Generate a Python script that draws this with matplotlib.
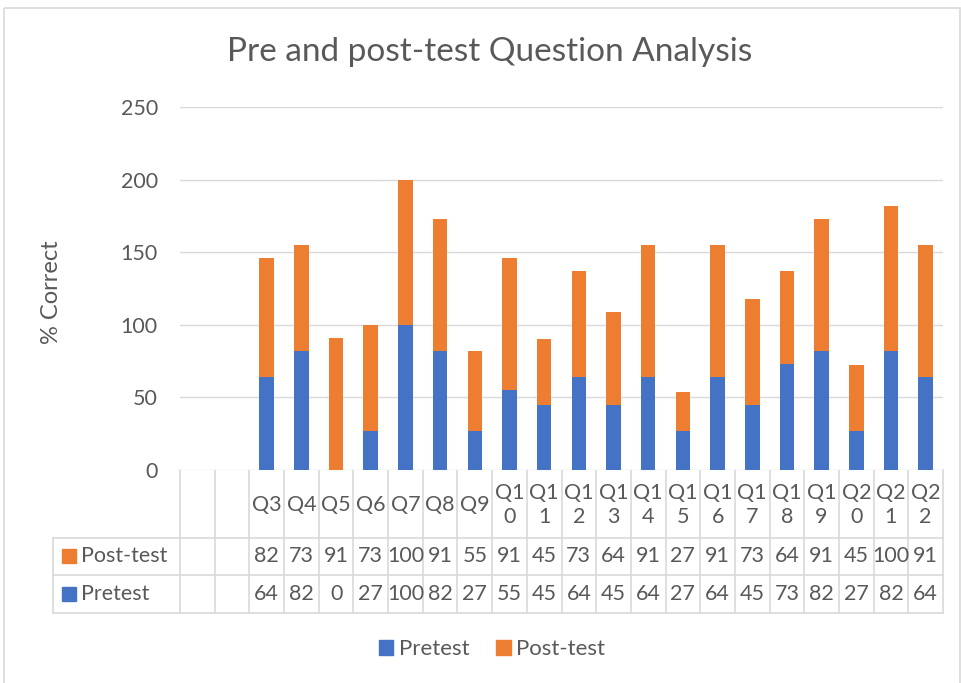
import matplotlib
matplotlib.use("Agg")
import matplotlib.pyplot as plt
from matplotlib.patches import Rectangle, Patch
from matplotlib.transforms import blended_transform_factory

plt.rcParams["font.family"] = ["Lato", "DejaVu Sans"]

# data (two blank categories at the start, as in the source sheet)
categories = ["", "", "Q3", "Q4", "Q5", "Q6", "Q7", "Q8", "Q9", "Q10", "Q11",
              "Q12", "Q13", "Q14", "Q15", "Q16", "Q17", "Q18", "Q19", "Q20",
              "Q21", "Q22"]
pretest = [None, None, 64, 82, 0, 27, 100, 82, 27, 55, 45, 64, 45, 64, 27,
           64, 45, 73, 82, 27, 82, 64]
posttest = [None, None, 82, 73, 91, 73, 100, 91, 55, 91, 45, 73, 64, 91, 27,
            91, 73, 64, 91, 45, 100, 91]
yticks = [0, 50, 100, 150, 200, 250]

BLUE = "#4472C4"
ORANGE = "#ED7D31"
GRID = "#D9D9D9"
TXT = "#595959"
FS = 15.5

W, H = 962, 683
fig = plt.figure(figsize=(W / 100, H / 100), dpi=100)

# overlay in pixel units for the frame / table rows
ov = fig.add_axes([0, 0, 1, 1])
ov.set_xlim(0, W)
ov.set_ylim(H, 0)
ov.axis("off")

ax = fig.add_axes([180 / W, (H - 470) / H, (943 - 180) / W, (470 - 107) / H])
ax.set_xlim(-0.5, len(categories) - 0.5)
ax.set_ylim(0, 250)
ax.set_yticks(yticks)
ax.yaxis.grid(True, color=GRID, lw=1)
ax.set_axisbelow(True)
for s in ax.spines.values():
    s.set_visible(False)
ax.tick_params(axis="y", length=0, pad=16, labelsize=FS, labelcolor=TXT)
ax.set_xticks([])

xs = [i for i, v in enumerate(pretest) if v is not None]
pre = [pretest[i] for i in xs]
post = [posttest[i] for i in xs]
ax.bar(xs, pre, width=0.42, color=BLUE)
ax.bar(xs, post, width=0.42, bottom=pre, color=ORANGE)

fig.text(490 / W, 1 - 52 / H, "Pre and post-test Question Analysis",
         ha="center", va="center", fontsize=24, color=TXT)
fig.text(52 / W, 1 - 292 / H, "% Correct", rotation=90, ha="center",
         va="center", fontsize=17, color=TXT)

# data table under the axis
tr = blended_transform_factory(ax.transData, ov.transData)
n = len(categories)
y0, y1, y2, y3 = 470, 538, 575, 613
for yy in (y1, y2, y3):
    ov.plot([-0.5, n - 0.5], [yy, yy], transform=tr, color=GRID, lw=1.2)
    ov.plot([53, 180], [yy, yy], color=GRID, lw=1.2)
ov.plot([53, 53], [y1, y3], color=GRID, lw=1.2)
for i in range(n + 1):
    ov.plot([i - 0.5, i - 0.5], [y0, y3], transform=tr, color=GRID, lw=1.2)

for i, c in enumerate(categories):
    lab = c if len(c) <= 2 else c[:2] + "\n" + c[2:]
    ov.text(i, 505, lab, transform=tr, ha="center", va="center",
            fontsize=FS, color=TXT, linespacing=1.2)
    if posttest[i] is not None:
        ov.text(i, 556, str(posttest[i]), transform=tr, ha="center",
                va="center", fontsize=FS, color=TXT)
        ov.text(i, 594, str(pretest[i]), transform=tr, ha="center",
                va="center", fontsize=FS, color=TXT)

for yc, name, col in [(556, "Post-test", ORANGE), (594, "Pretest", BLUE)]:
    ov.add_patch(Rectangle((62, yc - 7), 14, 14, color=col))
    ov.text(81, yc, name, ha="left", va="center", fontsize=FS, color=TXT)

# chart frame
ov.add_patch(Rectangle((4, 8), 956, 700, fill=False, edgecolor=GRID, lw=1.2,
                       clip_on=False))

handles = [Patch(color=BLUE, label="Pretest"), Patch(color=ORANGE, label="Post-test")]
fig.legend(handles=handles, loc="center", bbox_to_anchor=(492 / W, 1 - 649 / H),
           ncol=2, frameon=False, fontsize=16, labelcolor=TXT,
           handlelength=0.65, handleheight=0.65, handletextpad=0.25,
           columnspacing=1.2)

fig.savefig("out.png", dpi=100)
